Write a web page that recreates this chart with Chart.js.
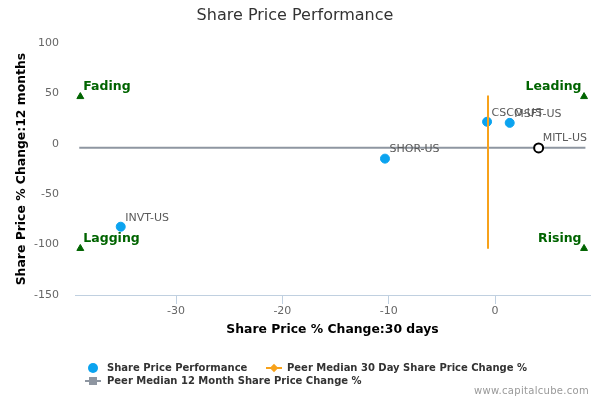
<!DOCTYPE html>
<html><head><meta charset="utf-8">
<script src="https://cdn.jsdelivr.net/npm/chart.js@4.4.1/dist/chart.umd.min.js"></script>
<style>
html,body{margin:0;padding:0;background:#fff;}
#wrap{position:relative;width:600px;height:400px;overflow:hidden;font-family:"DejaVu Sans",sans-serif;}
#c{position:absolute;left:0;top:0;}
.lgt{position:absolute;font-weight:bold;font-size:10px;color:#333;white-space:nowrap;line-height:12px;}
.sym{position:absolute;}
#credit{position:absolute;right:11px;top:385px;font-size:10px;line-height:12px;color:#999;letter-spacing:0.3px;}
</style></head>
<body><div id="wrap"><canvas id="c" width="600" height="400"></canvas><div id="legend"></div><div id="credit">www.capitalcube.com</div></div>
<script>
// ---- data ----
const companies = ['CSCO-US', 'MSFT-US', 'SHOR-US', 'INVT-US'];
const change30d = [-0.75, 1.38, -10.35, -35.2];
const change12m = [22, 20.9, -14.6, -82.2];
const subjectName = ['MITL-US'];
const subject30d = [4.1];
const subject12m = [-4];
const peerMedian30d = -0.66;
const peerMedian12m = -3.7;
const median30dYRange = [48, -104];
const median12mXRange = [-39.1, 8.5];
const quadLabels = ['Fading', 'Leading', 'Lagging', 'Rising'];
const quadX = [-39.0, 8.37, -39.0, 8.37];
const quadY = [47, 47, -103.8, -103.8];
const quadAlign = ['left', 'right', 'left', 'right'];
const xTickStep = 10;
const yTickStep = 50;
const xRange = [-39.5, 8.93];
const yRange = [-150, 100];

const seriesNames = ['Share Price Performance', 'Peer Median 30 Day Share Price Change %', 'Peer Median 12 Month Share Price Change %'];

const BLUE = '#0ba3ef', ORANGE = '#f7a21b', GRAY = '#8e96a1', GREEN = '#006400';

const labelPlugin = {
  id: 'pointLabels',
  afterDatasetsDraw(chart) {
    const c = chart.ctx;
    chart.data.datasets.forEach((ds, i) => {
      if (!ds.pointLabels) return;
      const meta = chart.getDatasetMeta(i);
      meta.data.forEach((pt, j) => {
        const al = ds.labelAlign ? ds.labelAlign[j] : 'left';
        c.save();
        c.font = ds.labelFont;
        c.fillStyle = ds.labelColor;
        c.textBaseline = 'middle';
        c.textAlign = al;
        const dx = al === 'left' ? ds.labelDx : -ds.labelDxR;
        c.fillText(ds.pointLabels[j], pt.x + dx, pt.y + ds.labelDy);
        c.restore();
      });
    });
  }
};

const FONT = '"DejaVu Sans"';

const chart = new Chart(document.getElementById('c'), {
  type: 'scatter',
  data: {
    datasets: [
      {
        label: subjectName[0],
        data: subject30d.map((x, i) => ({x: x, y: subject12m[i]})),
        pointRadius: 4.5, pointHoverRadius: 4.5,
        pointBorderWidth: 2, borderColor: '#000', backgroundColor: '#fff',
        order: 0,
        pointLabels: subjectName, labelFont: '11px ' + FONT, labelColor: '#5a5a5a', labelDx: 4, labelDy: -9.5
      },
      {
        label: seriesNames[1],
        data: median30dYRange.map(y => ({x: peerMedian30d, y: y})),
        showLine: true, borderColor: ORANGE, borderWidth: 2, pointRadius: 0, pointHoverRadius: 0,
        order: 1
      },
      {
        label: seriesNames[2],
        data: median12mXRange.map(x => ({x: x, y: peerMedian12m})),
        showLine: true, borderColor: GRAY, borderWidth: 2, pointRadius: 0, pointHoverRadius: 0,
        order: 2
      },
      {
        label: seriesNames[0],
        data: change30d.map((x, i) => ({x: x, y: change12m[i]})),
        pointRadius: 4.5, pointHoverRadius: 4.5, pointBorderWidth: 1,
        borderColor: BLUE, backgroundColor: BLUE,
        order: 3,
        pointLabels: companies, labelFont: '11px ' + FONT, labelColor: '#5a5a5a', labelDx: 4.5, labelDy: -9
      },
      {
        label: 'Quadrants',
        data: quadX.map((x, i) => ({x: x, y: quadY[i]})),
        pointStyle: 'triangle', pointRadius: 4, pointHoverRadius: 4, pointBorderWidth: 1,
        borderColor: GREEN, backgroundColor: GREEN,
        order: 4,
        pointLabels: quadLabels, labelAlign: quadAlign, labelFont: 'bold 12.5px ' + FONT, labelColor: GREEN,
        labelDx: 3, labelDxR: 2.5, labelDy: -9.5
      }
    ]
  },
  options: {
    responsive: false,
    animation: false,
    devicePixelRatio: 1,
    events: [],
    layout: {padding: {left: 0, right: 10, top: 0, bottom: 0}},
    plugins: {
      legend: {display: false},
      tooltip: {enabled: false},
      title: {
        display: true, text: 'Share Price Performance', color: '#333',
        font: {family: FONT, size: 16, weight: 'normal', lineHeight: 1.2},
        padding: {top: 6, bottom: 18}
      }
    },
    scales: {
      x: {
        type: 'linear', min: xRange[0], max: xRange[1],
        ticks: {stepSize: xTickStep, includeBounds: false, color: '#666', font: {family: FONT, size: 11}, padding: 1, maxRotation: 0},
        grid: {drawOnChartArea: false, drawTicks: true, tickLength: 9, color: '#c0d0e0', tickWidth: 1},
        border: {display: true, color: '#c0d0e0', width: 1},
        title: {display: true, text: 'Share Price % Change:30 days', color: '#000',
          font: {family: FONT, size: 12.4, weight: 'bold', lineHeight: 1.2}, padding: {top: 4, bottom: 63}},
        afterFit(s) { s.height = 105; }
      },
      y: {
        type: 'linear', min: yRange[0], max: yRange[1],
        ticks: {stepSize: yTickStep, color: '#666', font: {family: FONT, size: 11}, padding: 16},
        grid: {display: false, drawTicks: false},
        border: {display: false},
        title: {display: true, text: 'Share Price % Change:12 months', color: '#000',
          font: {family: FONT, size: 12.4, weight: 'bold', lineHeight: 1.2}, padding: {top: 14, bottom: 0}},
        afterFit(s) { s.width = 75; }
      }
    }
  },
  plugins: [labelPlugin]
});

// ---- HTML legend built from the series names ----
(function () {
  const lg = document.getElementById('legend');
  function add(html) { lg.insertAdjacentHTML('beforeend', html); }
  // item 1: blue circle
  add('<div class="sym" style="left:88px;top:363px;width:10px;height:10px;border-radius:50%;background:' + BLUE + '"></div>');
  add('<div class="lgt" style="left:107px;top:362px">' + seriesNames[0] + '</div>');
  // item 2: orange line with diamond
  add('<div class="sym" style="left:266px;top:367px;width:16px;height:2px;background:' + ORANGE + '"></div>');
  add('<div class="sym" style="left:271px;top:365px;width:6px;height:6px;transform:rotate(45deg);background:' + ORANGE + '"></div>');
  add('<div class="lgt" style="left:287px;top:362px">' + seriesNames[1] + '</div>');
  // item 3: gray line with square
  add('<div class="sym" style="left:85px;top:380px;width:16px;height:2px;background:' + GRAY + '"></div>');
  add('<div class="sym" style="left:89px;top:377px;width:8px;height:8px;background:' + GRAY + '"></div>');
  add('<div class="lgt" style="left:107px;top:375px">' + seriesNames[2] + '</div>');
})();
</script>
</body></html>
